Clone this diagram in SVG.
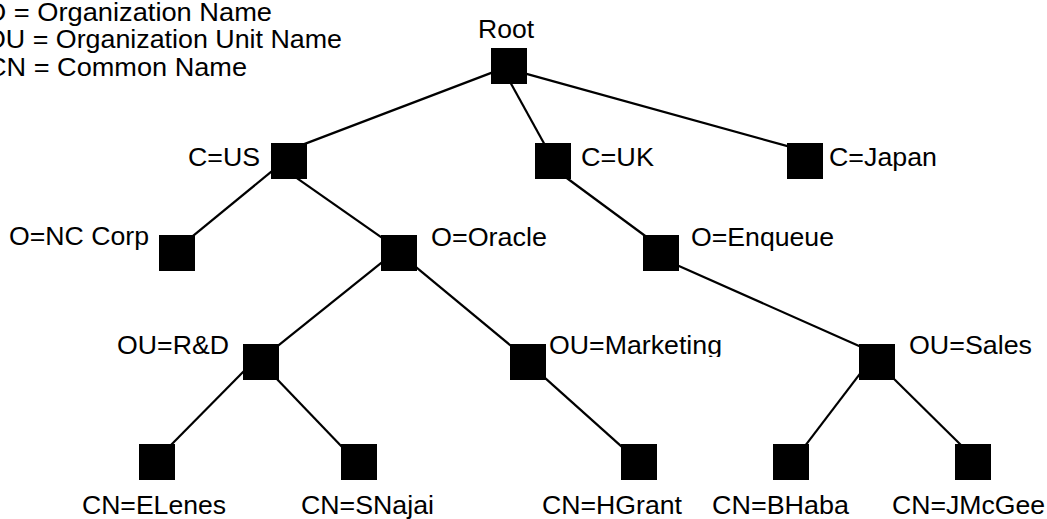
<svg xmlns="http://www.w3.org/2000/svg" width="1047" height="519" viewBox="0 0 1047 519">
  <style>
    .edge { stroke: #000; stroke-width: 2.2; fill: none; }
    .box { fill: #000; }
    text { font-family: "Liberation Sans", Arial, sans-serif; font-size: 25px; fill: #000; }
  </style>
  <defs>
    <clipPath id="marketing-clip">
      <rect x="540" y="320" width="200" height="37"/>
    </clipPath>
  </defs>
  <rect width="1047" height="519" fill="#fff"/>

  <!-- legend -->
  <g id="legend">
    <text x="-15" y="21" textLength="287" lengthAdjust="spacingAndGlyphs">O = Organization Name</text>
    <text x="-15" y="48" textLength="357" lengthAdjust="spacingAndGlyphs">OU = Organization Unit Name</text>
    <text x="-13" y="76" textLength="260" lengthAdjust="spacingAndGlyphs">CN = Common Name</text>
  </g>

  <!-- connectors -->
  <g id="connectors">
    <line class="edge" x1="496.5" y1="70.9" x2="301.5" y2="145.1"/>
    <line class="edge" x1="509" y1="80" x2="546" y2="147"/>
    <line class="edge" x1="522" y1="72.6" x2="792" y2="147.4"/>
    <line class="edge" x1="275" y1="168.7" x2="190" y2="238.3"/>
    <line class="edge" x1="294" y1="176.2" x2="385" y2="239.8"/>
    <line class="edge" x1="564" y1="176" x2="648" y2="238"/>
    <line class="edge" x1="675" y1="264.2" x2="863" y2="347.8"/>
    <line class="edge" x1="385" y1="259.8" x2="275" y2="348.2"/>
    <line class="edge" x1="413" y1="264.7" x2="514" y2="348.3"/>
    <line class="edge" x1="245" y1="370" x2="169" y2="447"/>
    <line class="edge" x1="274" y1="376" x2="344" y2="449"/>
    <line class="edge" x1="541" y1="374.4" x2="625" y2="449.6"/>
    <line class="edge" x1="861.4" y1="371.8" x2="802.6" y2="449.2"/>
    <line class="edge" x1="890" y1="375" x2="965" y2="449"/>
  </g>

  <!-- nodes -->
  <g id="root">
    <rect class="box" x="491" y="48" width="36" height="36"/>
    <text x="478" y="38" textLength="56" lengthAdjust="spacingAndGlyphs">Root</text>
  </g>
  <g id="c-us">
    <rect class="box" x="271" y="143" width="36" height="36"/>
    <text x="188" y="166" textLength="72" lengthAdjust="spacingAndGlyphs">C=US</text>
  </g>
  <g id="c-uk">
    <rect class="box" x="535" y="143" width="36" height="36"/>
    <text x="581" y="166" textLength="73" lengthAdjust="spacingAndGlyphs">C=UK</text>
  </g>
  <g id="c-japan">
    <rect class="box" x="787" y="143" width="36" height="36"/>
    <text x="829" y="166" textLength="108" lengthAdjust="spacingAndGlyphs">C=Japan</text>
  </g>
  <g id="o-nc-corp">
    <rect class="box" x="159" y="235" width="36" height="36"/>
    <text x="9" y="245" textLength="140" lengthAdjust="spacingAndGlyphs">O=NC Corp</text>
  </g>
  <g id="o-oracle">
    <rect class="box" x="381" y="235" width="36" height="36"/>
    <text x="431" y="246" textLength="116" lengthAdjust="spacingAndGlyphs">O=Oracle</text>
  </g>
  <g id="o-enqueue">
    <rect class="box" x="643" y="235" width="36" height="36"/>
    <text x="691" y="246" textLength="143" lengthAdjust="spacingAndGlyphs">O=Enqueue</text>
  </g>
  <g id="ou-rd">
    <rect class="box" x="243" y="344" width="36" height="36"/>
    <text x="117" y="354" textLength="112" lengthAdjust="spacingAndGlyphs">OU=R&amp;D</text>
  </g>
  <g id="ou-marketing">
    <rect class="box" x="510" y="344" width="36" height="36"/>
    <text x="549" y="354" textLength="173" lengthAdjust="spacingAndGlyphs" clip-path="url(#marketing-clip)">OU=Marketing</text>
  </g>
  <g id="ou-sales">
    <rect class="box" x="859" y="344" width="36" height="36"/>
    <text x="909" y="354" textLength="123" lengthAdjust="spacingAndGlyphs">OU=Sales</text>
  </g>
  <g id="cn-elenes">
    <rect class="box" x="139" y="444" width="36" height="36"/>
    <text x="82" y="514" textLength="144" lengthAdjust="spacingAndGlyphs">CN=ELenes</text>
  </g>
  <g id="cn-snajai">
    <rect class="box" x="341" y="444" width="36" height="36"/>
    <text x="301" y="514" textLength="133" lengthAdjust="spacingAndGlyphs">CN=SNajai</text>
  </g>
  <g id="cn-hgrant">
    <rect class="box" x="621" y="444" width="36" height="36"/>
    <text x="542" y="514" textLength="140" lengthAdjust="spacingAndGlyphs">CN=HGrant</text>
  </g>
  <g id="cn-bhaba">
    <rect class="box" x="773" y="444" width="36" height="36"/>
    <text x="712" y="514" textLength="137" lengthAdjust="spacingAndGlyphs">CN=BHaba</text>
  </g>
  <g id="cn-jmcgee">
    <rect class="box" x="955" y="444" width="36" height="36"/>
    <text x="892" y="514" textLength="153" lengthAdjust="spacingAndGlyphs">CN=JMcGee</text>
  </g>
</svg>
